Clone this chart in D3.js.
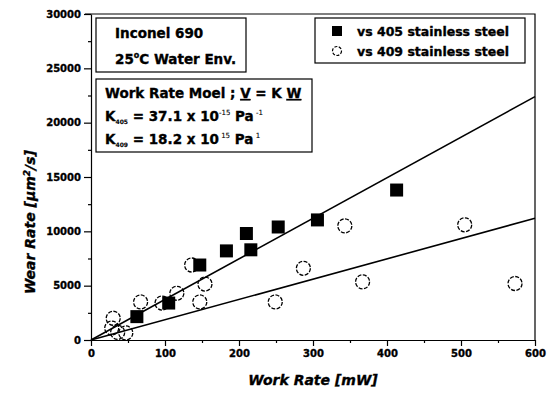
<!DOCTYPE html>
<html>
<head>
<meta charset="utf-8">
<script src="https://cdn.jsdelivr.net/npm/d3@7"></script>
<style>
  body { margin: 0; background: #fff; }
  text { font-family: "DejaVu Sans", Verdana, sans-serif; font-weight: bold; fill: #000; stroke: #000; stroke-width: 0.35px; }
</style>
</head>
<body>
<div id="chart"></div>
<script>
// Data
var workRate405 = [62, 105, 147, 183, 210, 216, 253, 306, 413];
var wearRate405 = [2150, 3400, 6900, 8200, 9800, 8300, 10400, 11050, 13800];

var workRate409 = [30, 28, 36, 47, 67, 96, 116, 136, 147, 154, 249, 287, 343, 367, 505, 573];
var wearRate409 = [2000, 1100, 700, 650, 3500, 3400, 4300, 6900, 3500, 5150, 3500, 6600, 10500, 5350, 10600, 5200];

// fitted lines (end points)
var fitX = [0, 600];
var fit405 = [0, 22400];
var fit409 = [0, 11200];

var xTicks = [0, 100, 200, 300, 400, 500, 600];
var yTicks = [0, 5000, 10000, 15000, 20000, 25000, 30000];

var svgWidth = 550;
var svgHeight = 394;

var chartMargin = { top: 14, right: 15, bottom: 54, left: 91 };
var chartWidth = svgWidth - chartMargin.left - chartMargin.right;
var chartHeight = svgHeight - chartMargin.top - chartMargin.bottom;

var svg = d3.select("#chart")
  .append("svg")
  .attr("width", svgWidth)
  .attr("height", svgHeight);

var chartGroup = svg.append("g")
  .attr("transform", `translate(${chartMargin.left}, ${chartMargin.top})`);

var xScale = d3.scaleLinear().domain([0, 600]).range([0, chartWidth]);
var yScale = d3.scaleLinear().domain([0, 30000]).range([chartHeight, 0]);

// frame (top and right)
chartGroup.append("path")
  .attr("d", `M-6,0H${chartWidth}V${chartHeight}`)
  .attr("fill", "none")
  .attr("stroke", "#000")
  .attr("stroke-width", 1.2);

// minor ticks
chartGroup.append("g")
  .attr("transform", `translate(0, ${chartHeight})`)
  .call(d3.axisBottom(xScale).tickValues(d3.range(50, 600, 100)).tickSize(3).tickFormat(""))
  .call(g => g.select(".domain").remove());
chartGroup.append("g")
  .call(d3.axisLeft(yScale).tickValues(d3.range(2500, 30000, 5000)).tickSize(3).tickFormat(""))
  .call(g => g.select(".domain").remove());

// axes
var bottomAxis = d3.axisBottom(xScale).tickValues(xTicks).tickFormat(d3.format("d"))
  .tickSize(6).tickSizeOuter(0).tickPadding(4);
var leftAxis = d3.axisLeft(yScale).tickValues(yTicks).tickFormat(d3.format("d"))
  .tickSize(7).tickSizeOuter(0).tickPadding(3);

chartGroup.append("g")
  .attr("transform", `translate(0, ${chartHeight})`)
  .call(bottomAxis)
  .call(g => g.selectAll("text").style("font-size", "10px"));

chartGroup.append("g")
  .call(leftAxis)
  .call(g => g.selectAll("text").style("font-size", "10px"));

chartGroup.selectAll(".domain, .tick line").attr("stroke", "#000").attr("stroke-width", 1.2);

// fit lines
var line = d3.line().x(d => xScale(d[0])).y(d => yScale(d[1]));
[fit405, fit409].forEach(function(f) {
  chartGroup.append("path")
    .datum(fitX.map((x, i) => [x, f[i]]))
    .attr("d", line)
    .attr("fill", "none")
    .attr("stroke", "#000")
    .attr("stroke-width", 1.6);
});

// 405 squares
var sq = 13;
chartGroup.append("g").selectAll("rect")
  .data(workRate405.map((x, i) => [x, wearRate405[i]]))
  .enter()
  .append("rect")
  .attr("x", d => xScale(d[0]) - sq / 2)
  .attr("y", d => yScale(d[1]) - sq / 2)
  .attr("width", sq)
  .attr("height", sq)
  .attr("fill", "#000");

// 409 circles
chartGroup.append("g").selectAll("circle")
  .data(workRate409.map((x, i) => [x, wearRate409[i]]))
  .enter()
  .append("circle")
  .attr("cx", d => xScale(d[0]))
  .attr("cy", d => yScale(d[1]))
  .attr("r", 7)
  .attr("fill", "none")
  .attr("stroke", "#000")
  .attr("stroke-width", 1.3)
  .attr("stroke-dasharray", "4 1.5");

// axis labels
chartGroup.append("text")
  .attr("x", chartWidth / 2)
  .attr("y", chartHeight + 45)
  .attr("text-anchor", "middle")
  .style("font-size", "14px")
  .style("font-style", "italic")
  .text("Work Rate [mW]");

var yLabel = svg.append("text")
  .attr("transform", "translate(35, 222) rotate(-90)")
  .attr("text-anchor", "middle")
  .style("font-size", "14px")
  .style("font-style", "italic");
yLabel.append("tspan").text("Wear Rate [\u03bcm");
yLabel.append("tspan").attr("dy", -5).style("font-size", "9px").text("2");
yLabel.append("tspan").attr("dy", 5).text("/s]");

// boxes (pixel positions relative to svg)
function box(x, y, w, h) {
  svg.append("rect")
    .attr("x", x).attr("y", y).attr("width", w).attr("height", h)
    .attr("fill", "#fff").attr("stroke", "#000").attr("stroke-width", 1.2);
}

box(96, 18, 150, 54);
svg.append("text").attr("x", 115).attr("y", 38).style("font-size", "13.5px").text("Inconel 690");
var t2 = svg.append("text").attr("x", 115).attr("y", 64).style("font-size", "13.5px");
t2.append("tspan").text("25");
t2.append("tspan").attr("dy", -6).style("font-size", "8px").text("o");
t2.append("tspan").attr("dy", 6).text("C Water Env.");

box(96, 79, 216, 73);
var m1 = svg.append("text").attr("x", 105).attr("y", 98).style("font-size", "13.5px");
m1.append("tspan").text("Work Rate Moel ; ");
m1.append("tspan").style("text-decoration", "underline").text("V");
m1.append("tspan").text(" = K ");
m1.append("tspan").style("text-decoration", "underline").text("W");

function kLine(y, sub, val, e1, e2) {
  var t = svg.append("text").attr("x", 105).attr("y", y).style("font-size", "13.5px");
  t.append("tspan").text("K");
  t.append("tspan").attr("dy", 3).style("font-size", "6px").style("stroke-width", "0.1px").text(sub);
  t.append("tspan").attr("dy", -3).text(" = " + val + " x 10");
  t.append("tspan").attr("dy", -6).style("font-size", "7px").style("font-weight", "normal").style("stroke-width", "0.1px").text(e1);
  t.append("tspan").attr("dy", 6).text(" Pa");
  t.append("tspan").attr("dy", -6).style("font-size", "7px").style("font-weight", "normal").style("stroke-width", "0.1px").text(e2);
}
kLine(121, "405", "37.1", "-15", " -1");
kLine(144, "409", "18.2", " 15", "  1");

// legend
box(315, 18, 210, 45);
svg.append("rect").attr("x", 332).attr("y", 26).attr("width", 10).attr("height", 10).attr("fill", "#000");
svg.append("circle").attr("cx", 337).attr("cy", 51).attr("r", 4.5)
  .attr("fill", "none").attr("stroke", "#000").attr("stroke-width", 1.2).attr("stroke-dasharray", "3 1.5");
svg.append("text").attr("x", 357).attr("y", 36).style("font-size", "12.5px").text("vs 405 stainless steel");
svg.append("text").attr("x", 357).attr("y", 56).style("font-size", "12.5px").text("vs 409 stainless steel");
</script>
</body>
</html>
